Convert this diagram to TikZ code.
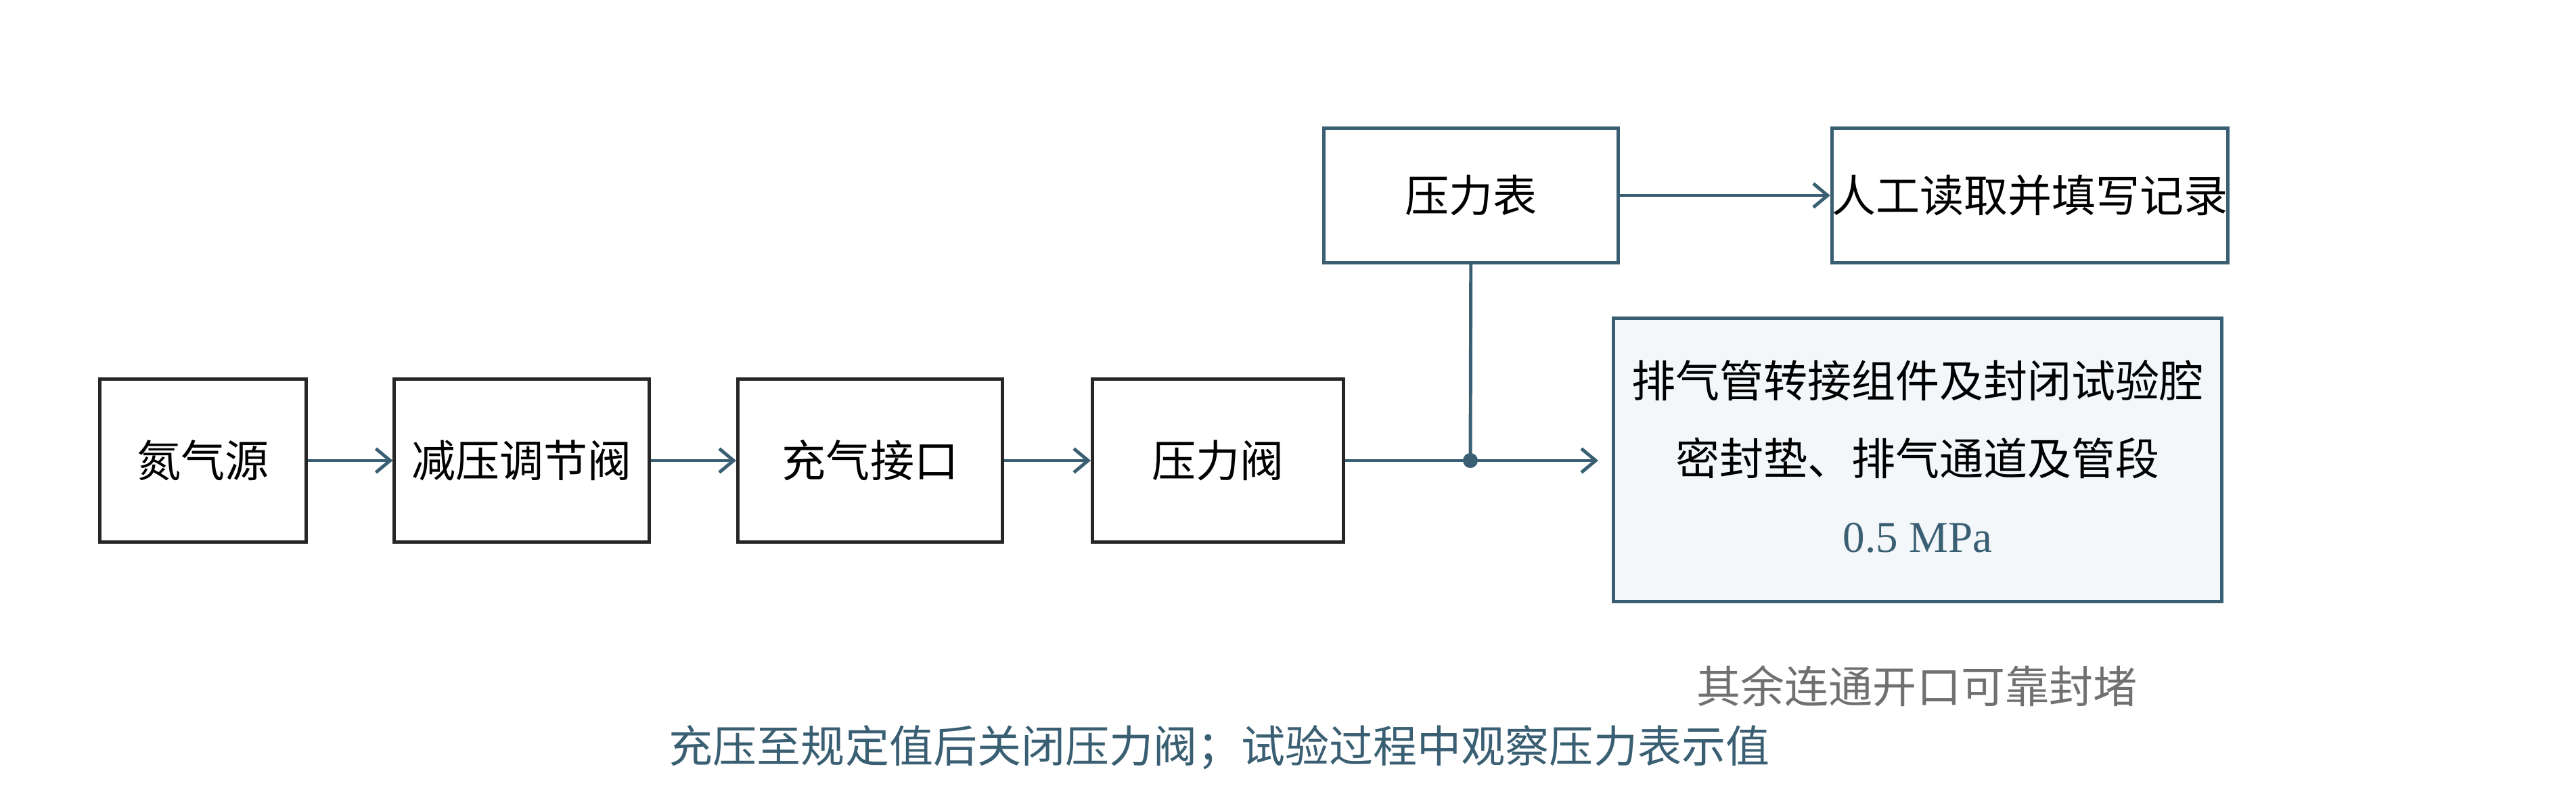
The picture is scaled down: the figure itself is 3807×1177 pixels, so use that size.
\documentclass[tikz,border=0pt]{standalone}
\usepackage{fontspec}
\setmainfont{Liberation Serif}
\newfontfamily\cjk{Noto Sans CJK SC}
\usetikzlibrary{arrows.meta}
\definecolor{tealline}{HTML}{3A5F73}
\definecolor{boxfill}{HTML}{F3F7FA}
\definecolor{notegray}{HTML}{707070}
\tikzset{
  blk/.style={draw=black!85, line width=1.4pt, minimum height=2.4cm, inner sep=0pt, font=\cjk\fontsize{18.5}{22}\selectfont},
  tblk/.style={draw=tealline, line width=1.4pt, inner sep=0pt, font=\cjk\fontsize{18.5}{22}\selectfont},
  flow/.style={draw=tealline, line width=1.4pt, -{Straight Barb[length=6pt,width=10pt]}}
}
\begin{document}
\begin{tikzpicture}[x=0.01cm,y=-0.01cm]
            \useasboundingbox (0,0) rectangle (3807,1177);

            %catena principale
            \node[blk, minimum width=3.04cm] (src) at (300,681) {氮气源};
            \node[blk, minimum width=3.76cm] (reg) at (771,681) {减压调节阀};
            \node[blk, minimum width=3.91cm] (port) at (1286,681) {充气接口};
            \node[blk, minimum width=3.71cm] (valve) at (1800,681) {压力阀};

            %manometro e registrazione
            \node[tblk, minimum width=4.35cm, minimum height=1.99cm] (gauge) at (2174,289) {压力表};
            \node[tblk, minimum width=5.85cm, minimum height=1.99cm] (rec) at (3000,289) {人工读取并填写记录};

            %camera di prova
            \node[tblk, fill=boxfill, minimum width=8.99cm, minimum height=4.18cm] (cav) at (2834,680) {};
            \node[font=\cjk\fontsize{18.5}{22}\selectfont] (cav1) at (2834,563) {排气管转接组件及封闭试验腔};
            \node[font=\cjk\fontsize{18.5}{22}\selectfont] (cav2) at (2834,678) {密封垫、排气通道及管段};
            \node[font=\fontsize{18.5}{22}\selectfont, text=tealline] (cav3) at (2834,795) {0.5 MPa};

            %nodo di giunzione
            \coordinate (j) at (2173,681);
            \coordinate (jend) at (2362,681);
            \fill[tealline] (j) circle (0.11cm);

            %note
            \node[font=\cjk\fontsize{18.5}{22}\selectfont, text=notegray] (note1) at (2833,1015) {其余连通开口可靠封堵};
            \node[font=\cjk\fontsize{18.5}{22}\selectfont, text=tealline] (note2) at (1802,1105) {充压至规定值后关闭压力阀；试验过程中观察压力表示值};

            %Archi
            \draw[flow] (src) -- (reg);
            \draw[flow] (reg) -- (port);
            \draw[flow] (port) -- (valve);
            \draw[flow] (valve) -- (jend);
            \draw[draw=tealline, line width=1.4pt] (gauge) -- (j);
            \draw[flow] (gauge) -- (rec);

        \end{tikzpicture}
\end{document}
